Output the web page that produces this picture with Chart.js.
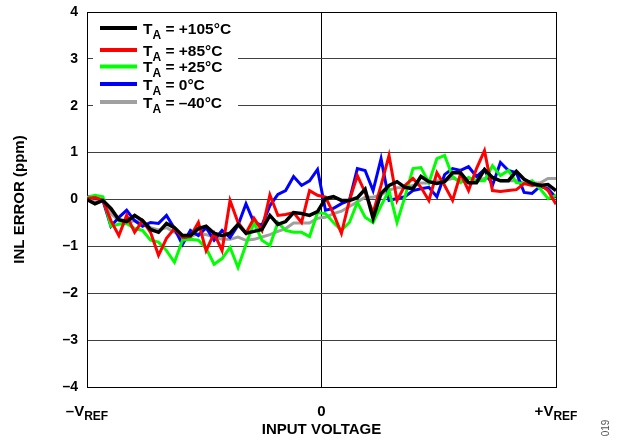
<!DOCTYPE html>
<html><head><meta charset="utf-8">
<script src="https://cdn.jsdelivr.net/npm/chart.js@4"></script>
<style>html,body{margin:0;padding:0;background:#fff}canvas{display:block}</style>
</head><body>
<canvas id="c" width="618" height="440"></canvas>
<script>
// Input voltage, normalised: -1 = -VREF, 0 = 0, +1 = +VREF
const xs = [-1.000,-0.966,-0.932,-0.898,-0.864,-0.831,-0.797,-0.763,-0.729,-0.695,
            -0.661,-0.627,-0.593,-0.559,-0.525,-0.492,-0.458,-0.424,-0.390,-0.356,
            -0.322,-0.288,-0.254,-0.220,-0.186,-0.153,-0.119,-0.085,-0.051,-0.017,
             0.017, 0.051, 0.085, 0.119, 0.153, 0.186, 0.220, 0.254, 0.288, 0.322,
             0.356, 0.390, 0.424, 0.458, 0.492, 0.525, 0.559, 0.593, 0.627, 0.661,
             0.695, 0.729, 0.763, 0.797, 0.831, 0.864, 0.898, 0.932, 0.966, 1.000];

const inl105 = [0,-0.09,-0.02,-0.19,-0.43,-0.47,-0.34,-0.45,-0.64,-0.70,
                -0.51,-0.60,-0.77,-0.77,-0.62,-0.57,-0.72,-0.77,-0.72,-0.53,
                -0.72,-0.68,-0.64,-0.34,-0.53,-0.47,-0.28,-0.30,-0.34,-0.26,
                 0.02,0.06,-0.02,-0.02,0.04,0.22,-0.40,0.13,0.30,0.38,
                 0.26,0.23,0.49,0.38,0.34,0.38,0.57,0.57,0.36,0.36,
                 0.64,0.47,0.40,0.40,0.60,0.43,0.34,0.30,0.32,0.19];

const inl85 = [0.02,0.04,-0.02,-0.45,-0.77,-0.34,-0.70,-0.45,-0.70,-1.19,
               -0.83,-0.62,-0.81,-0.79,-0.49,-1.09,-0.72,-1.09,-0.02,-0.49,
               -0.72,-0.40,-0.66,0.10,-0.34,-0.32,-0.28,-0.49,0.19,0.09,
               0.05,-0.30,-0.72,-0.02,0.51,0.15,-0.28,0.30,0.94,-0.02,
               0.30,0.45,0.26,-0.02,0.57,0.30,-0.02,0.55,0.19,0.66,
               1.04,0.19,0.17,0.19,0.21,0.34,0.30,0.32,0.19,-0.10];

const inl25 = [0.04,0.09,0.06,-0.57,-0.53,-0.51,-0.62,-0.66,-0.87,-0.91,
               -1.09,-1.34,-0.87,-0.85,-0.87,-1.04,-1.38,-1.26,-1.02,-1.45,
               -0.96,-0.49,-0.87,-0.98,-0.49,-0.66,-0.70,-0.70,-0.79,-0.28,
               -0.30,-0.49,-0.66,-0.49,-0.06,-0.38,-0.49,-0.13,0.19,-0.49,
               0.06,0.66,0.68,0.36,0.87,0.94,0.49,0.36,0.47,0.40,
               0.40,0.72,0.51,0.62,0.36,0.34,0.40,0.23,0.02,0.09];

const inl0 = [0.06,0.04,-0.02,-0.57,-0.38,-0.23,-0.45,-0.57,-0.49,-0.51,
              -0.34,-0.62,-0.96,-0.66,-0.77,-0.60,-0.87,-0.66,-0.81,-0.55,
              -0.09,-0.49,-0.55,-0.13,0.11,0.19,0.49,0.30,0.40,0.64,
              -0.23,-0.19,-0.09,-0.02,0.66,0.62,0.19,0.87,-0.02,0.02,
              0.06,0.19,0.23,0.26,0.06,0.53,0.66,0.62,0.70,0.49,
              0.64,0.30,0.79,0.62,0.57,0.15,0.13,0.28,0.23,0.04];

const inlm40 = [0,-0.05,0,-0.30,-0.45,-0.50,-0.45,-0.50,-0.60,-0.65,
                -0.60,-0.70,-0.80,-0.80,-0.72,-0.75,-0.80,-0.85,-0.85,-0.80,
                -0.87,-0.85,-0.80,-0.75,-0.68,-0.62,-0.50,-0.50,-0.50,-0.40,
                -0.38,-0.30,-0.25,-0.15,-0.05,0.05,0.05,0.10,0.20,0.25,
                0.25,0.30,0.35,0.35,0.40,0.40,0.45,0.40,0.45,0.40,
                0.45,0.45,0.40,0.40,0.40,0.35,0.35,0.35,0.45,0.45];

const seriesNames = ['+105°C', '+85°C', '+25°C', '0°C', '–40°C'];
const seriesValues = [inl105, inl85, inl25, inl0, inlm40];
const seriesColors = ['#000000', '#ff0000', '#00ff00', '#0000ff', '#a0a0a0'];

const xTickMain = ['–V', '0', '+V'];
const xTickSub = ['REF', '', 'REF'];
const xTickValues = [-1, 0, 1];

const FONT = '"Liberation Sans", Arial, Helvetica, sans-serif';

const datasets = seriesValues.map((vals, k) => ({
  label: 'T_A = ' + seriesNames[k],
  data: vals.map((v, i) => ({x: xs[i], y: v})),
  borderColor: seriesColors[k],
  backgroundColor: seriesColors[k],
  borderWidth: k === 0 ? 3.5 : 3,
  pointRadius: 0,
  tension: 0,
  fill: false
}));

const legendPlugin = {
  id: 'tempLegend',
  afterDatasetsDraw(chart) {
    const ctx = chart.ctx, a = chart.chartArea;
    const rowOff = [16, 38, 54.5, 72, 90];
    ctx.save();
    ctx.fillStyle = '#ffffff';
    ctx.fillRect(a.left + 6, a.top + 1, 145, 98);
    seriesNames.forEach((name, k) => {
      const y = a.top + rowOff[k];
      ctx.strokeStyle = seriesColors[k];
      ctx.lineWidth = 4;
      ctx.lineCap = 'butt';
      ctx.beginPath();
      ctx.moveTo(a.left + 13, y);
      ctx.lineTo(a.left + 50, y);
      ctx.stroke();
      ctx.fillStyle = '#000';
      ctx.textBaseline = 'alphabetic';
      ctx.textAlign = 'left';
      let x = a.left + 56;
      ctx.font = 'bold 15.5px ' + FONT;
      ctx.fillText('T', x, y + 5.5);
      x += ctx.measureText('T').width;
      ctx.font = 'bold 12px ' + FONT;
      ctx.fillText('A', x, y + 10.5);
      x += ctx.measureText('A').width;
      ctx.font = 'bold 15.5px ' + FONT;
      ctx.fillText(' = ' + name, x, y + 5.5);
    });
    ctx.restore();
  }
};

const xLabelPlugin = {
  id: 'xLabels',
  afterDraw(chart) {
    const ctx = chart.ctx, a = chart.chartArea, sx = chart.scales.x;
    ctx.save();
    ctx.fillStyle = '#000';
    ctx.textBaseline = 'alphabetic';
    ctx.textAlign = 'left';
    xTickValues.forEach((v, k) => {
      ctx.font = 'bold 15px ' + FONT;
      const w1 = ctx.measureText(xTickMain[k]).width;
      ctx.font = 'bold 12px ' + FONT;
      const w2 = xTickSub[k] ? ctx.measureText(xTickSub[k]).width : 0;
      const cx = sx.getPixelForValue(v);
      let x = cx - (w1 + w2) / 2;
      const base = a.bottom + 28.5;
      ctx.font = 'bold 15px ' + FONT;
      ctx.fillText(xTickMain[k], x, base);
      x += w1;
      if (xTickSub[k]) {
        ctx.font = 'bold 12px ' + FONT;
        ctx.fillText(xTickSub[k], x, base + 4.5);
      }
    });
    // figure number
    ctx.translate(606, 428);
    ctx.rotate(-Math.PI / 2);
    ctx.font = '10px ' + FONT;
    ctx.fillStyle = '#555';
    ctx.textAlign = 'center';
    ctx.textBaseline = 'middle';
    ctx.fillText('019', 0, 0);
    ctx.restore();
  }
};

new Chart(document.getElementById('c'), {
  type: 'line',
  data: { datasets },
  options: {
    responsive: false,
    animation: false,
    devicePixelRatio: 1,
    layout: { padding: { left: 0, right: 62, top: 12, bottom: 0 } },
    plugins: { legend: { display: false }, tooltip: { enabled: false } },
    scales: {
      x: {
        type: 'linear',
        min: -1, max: 1,
        afterFit(s) { s.height = 53; s.paddingLeft = 0; s.paddingRight = 0; },
        ticks: { stepSize: 1, display: false },
        grid: { color: '#000', lineWidth: 1, drawTicks: false },
        border: { color: '#000', width: 1 },
        title: { display: true, text: 'INPUT VOLTAGE', color: '#000',
                 font: { family: FONT, size: 15, weight: 'bold' },
                 padding: { top: 0, bottom: 1 } }
      },
      y: {
        min: -4, max: 4,
        afterFit(s) { s.width = 87; s.paddingTop = 0; s.paddingBottom = 0; },
        ticks: { stepSize: 1, color: '#000', padding: 9,
                 font: { family: FONT, size: 14, weight: 'bold' },
                 callback: v => v < 0 ? '–' + Math.abs(v) : String(v) },
        grid: { color: ctx => (ctx.tick && Math.abs(ctx.tick.value) === 4) ? '#000' : '#404040',
                lineWidth: 1, drawTicks: false },
        border: { color: '#000', width: 1 },
        title: { display: true, text: 'INL ERROR (ppm)', color: '#000',
                 font: { family: FONT, size: 15, weight: 'bold' },
                 padding: { top: 11, bottom: 0 } }
      }
    }
  },
  plugins: [legendPlugin, xLabelPlugin]
});
</script>
</body></html>
